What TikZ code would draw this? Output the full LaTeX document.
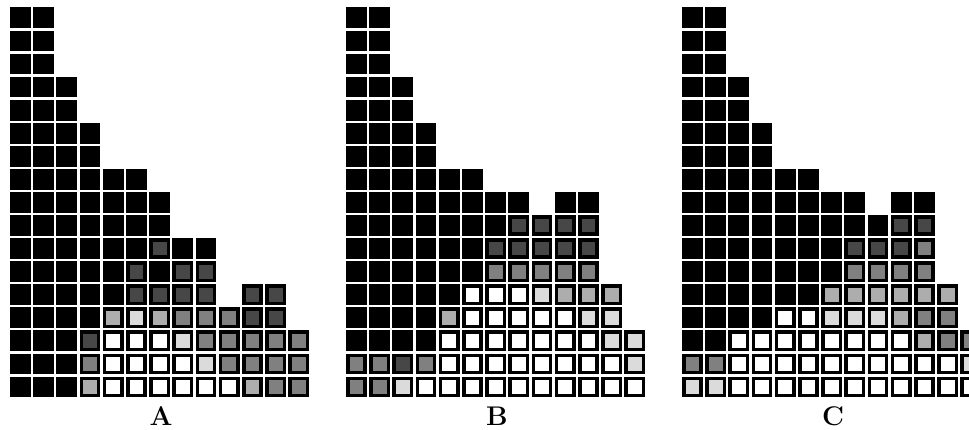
\documentclass[tikz,border=0pt]{standalone}
\usepackage{xcolor}
\usepackage{tikz}
\definecolor{shk}{gray}{0}
\definecolor{shd}{gray}{0.28}
\definecolor{shm}{gray}{0.50}
\definecolor{shl}{gray}{0.68}
\definecolor{shv}{gray}{0.86}
\definecolor{shw}{gray}{1}
\tikzset{label/.style={font=\fontsize{27}{28}\selectfont\bfseries,inner sep=0pt}}
% one column of cells per list, listed from the bottom cell up
\newcommand{\panel}[2]{%
  \foreach \s [count=\c from 0] in {#2} {
    \foreach \f [count=\r from 0] in \s {
      \fill[black] ({#1+\c*23.2},{376.6-\r*23.07}) rectangle +(20.8,20.8);
      \fill[sh\f] ({#1+\c*23.2+3.5},{376.6-\r*23.07+3.5}) rectangle +(13.8,13.8);
    }
  }
}

\begin{document}
\begin{tikzpicture}[x=1pt,y=-1pt]
\useasboundingbox (0,0) rectangle (969,430);
\begin{scope}
\clip (0,0) rectangle (969,430);
\panel{10}{%
  {k,k,k,k,k,k,k,k,k,k,k,k,k,k,k,k,k},
  {k,k,k,k,k,k,k,k,k,k,k,k,k,k,k,k,k},
  {k,k,k,k,k,k,k,k,k,k,k,k,k,k},
  {l,m,d,k,k,k,k,k,k,k,k,k},
  {w,w,w,l,k,k,k,k,k,k},
  {w,w,w,v,d,d,k,k,k,k},
  {w,w,w,l,d,k,d,k,k},
  {w,w,v,m,d,d,k},
  {w,v,m,m,d,d,k},
  {w,m,m,m},
  {l,m,m,d,d},
  {m,m,m,d,d},
  {m,m,m}}
\panel{346}{%
  {m,m,k,k,k,k,k,k,k,k,k,k,k,k,k,k,k},
  {m,m,k,k,k,k,k,k,k,k,k,k,k,k,k,k,k},
  {v,d,k,k,k,k,k,k,k,k,k,k,k,k},
  {w,m,k,k,k,k,k,k,k,k,k,k},
  {w,w,w,l,k,k,k,k,k,k},
  {w,w,w,w,w,k,k,k,k,k},
  {w,w,w,w,w,m,d,k,k},
  {w,w,w,w,w,m,d,d,k},
  {w,w,w,w,v,m,d,d},
  {w,w,w,w,l,m,d,d,k},
  {w,w,w,v,l,m,d,d,k},
  {w,w,v,v,l},
  {w,v,v}}
\panel{682}{%
  {v,m,k,k,k,k,k,k,k,k,k,k,k,k,k,k,k},
  {v,m,k,k,k,k,k,k,k,k,k,k,k,k,k,k,k},
  {w,w,w,k,k,k,k,k,k,k,k,k,k,k},
  {w,w,w,k,k,k,k,k,k,k,k,k},
  {w,w,w,w,k,k,k,k,k,k},
  {w,w,w,w,k,k,k,k,k,k},
  {w,w,w,v,l,k,k,k,k},
  {w,w,w,v,l,m,d,k,k},
  {w,w,w,v,l,m,d,k},
  {w,w,w,l,l,m,d,d,k},
  {w,w,l,m,l,m,m,d,k},
  {w,w,m,m,l},
  {w,v,m}}
\end{scope}
\node[label] (labA) at (161,416) {A};
\node[label] (labB) at (497,416) {B};
\node[label] (labC) at (833,416) {C};
\end{tikzpicture}
\end{document}
